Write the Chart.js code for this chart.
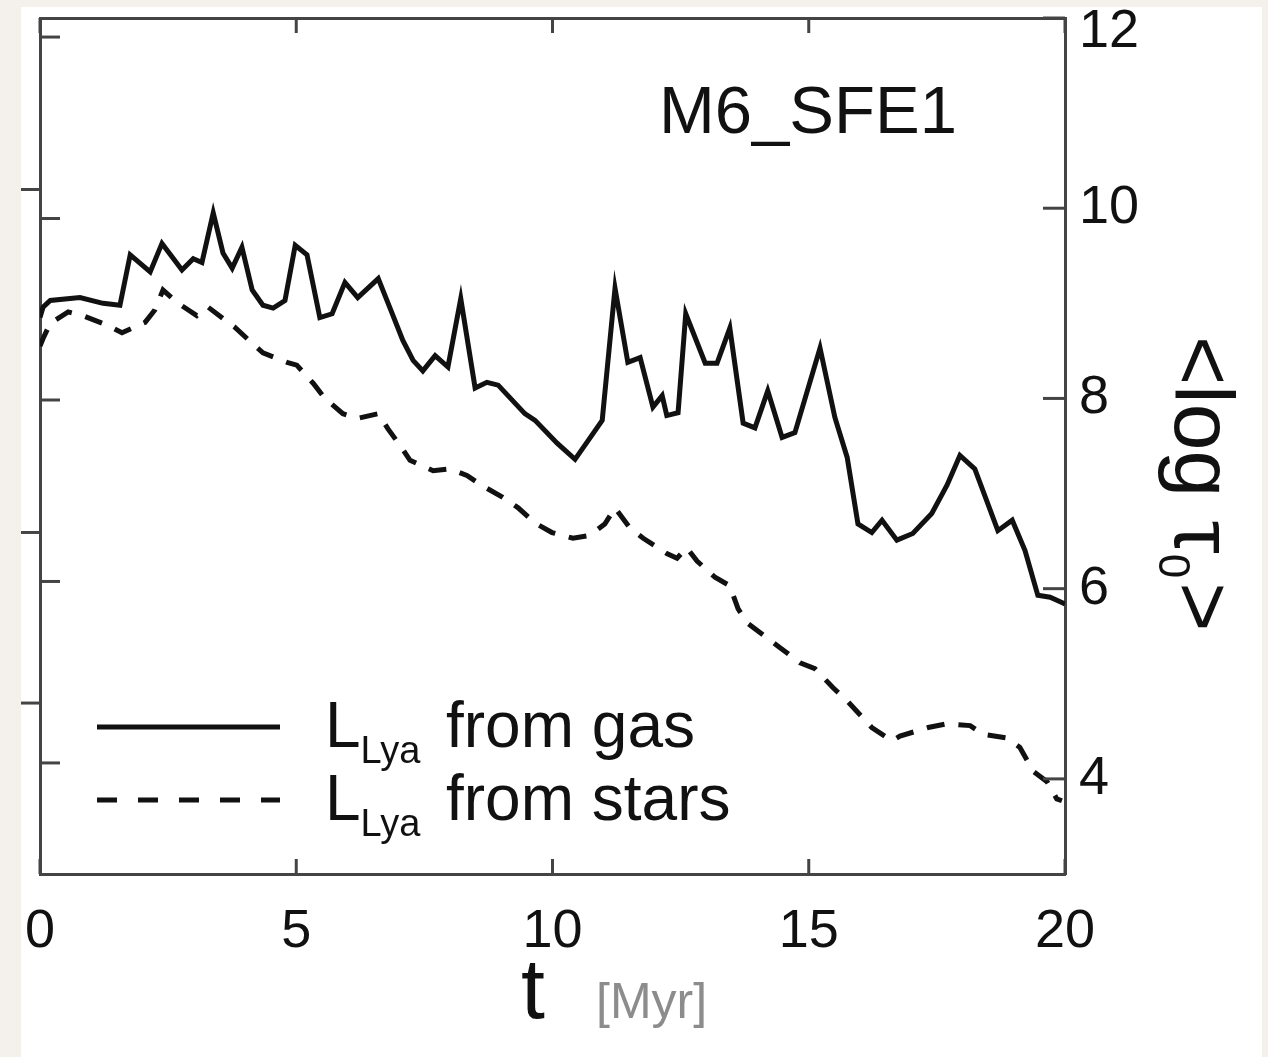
<!DOCTYPE html>
<html><head><meta charset="utf-8">
<script src="https://cdn.jsdelivr.net/npm/chart.js@4.4.0/dist/chart.umd.min.js"></script>
<style>
html,body{margin:0;padding:0;background:#f4f1ec;overflow:hidden;}
#paper{position:absolute;left:21px;top:7px;width:1241px;height:1050px;background:#fff;}
#c{position:absolute;left:0;top:0;}
</style></head><body>
<div id="paper"></div>
<canvas id="c" width="1268" height="1057"></canvas>
<script>
// ---- data ----
const xTicks = [0, 5, 10, 15, 20];
const rightTicks = [4, 6, 8, 10, 12];
const leftTicks = [40, 41, 42, 43, 44];
const leftOuterTicks = [40.33, 41.27, 43.16];
const panelLabel = 'M6_SFE1';
const seriesNames = ['from gas', 'from stars'];
const seriesSymbol = 'L';
const seriesSub = 'Lya';

const gasTime = [0, 0.06, 0.2, 0.78, 1.23, 1.56, 1.76, 2.15, 2.38, 2.77, 2.99, 3.16, 3.38, 3.57, 3.75, 3.94, 4.14, 4.35, 4.55, 4.78, 4.98, 5.21, 5.46, 5.70, 5.95, 6.20, 6.60, 6.83, 7.08, 7.28, 7.47, 7.71, 7.96, 8.21, 8.49, 8.72, 8.94, 9.46, 9.66, 10.09, 10.44, 10.97, 11.22, 11.47, 11.71, 11.96, 12.14, 12.23, 12.45, 12.60, 12.98, 13.21, 13.46, 13.72, 13.95, 14.20, 14.48, 14.73, 15.22, 15.51, 15.75, 15.96, 16.23, 16.43, 16.72, 17.03, 17.40, 17.70, 17.95, 18.24, 18.69, 18.97, 19.22, 19.47, 19.71, 19.96, 20.0];
const gasTau = [8.85, 8.96, 9.03, 9.06, 9.0, 8.98, 9.51, 9.33, 9.63, 9.35, 9.47, 9.43, 9.95, 9.53, 9.37, 9.59, 9.14, 8.98, 8.95, 9.03, 9.61, 9.51, 8.85, 8.89, 9.22, 9.06, 9.26, 8.95, 8.61, 8.40, 8.29, 8.45, 8.33, 9.05, 8.11, 8.17, 8.14, 7.84, 7.77, 7.53, 7.36, 7.77, 9.16, 8.38, 8.43, 7.91, 8.03, 7.82, 7.85, 8.89, 8.37, 8.37, 8.74, 7.74, 7.69, 8.08, 7.59, 7.64, 8.53, 7.80, 7.38, 6.68, 6.59, 6.72, 6.51, 6.58, 6.79, 7.09, 7.40, 7.26, 6.61, 6.72, 6.40, 5.93, 5.91, 5.85, 5.84];

const starTime = [0, 0.06, 0.20, 0.55, 0.84, 1.31, 1.60, 2.05, 2.24, 2.40, 2.67, 3.06, 3.28, 3.57, 3.80, 4.14, 4.35, 4.82, 5.01, 5.33, 5.56, 5.91, 6.20, 6.60, 6.79, 7.06, 7.22, 7.67, 8.00, 8.33, 8.64, 9.03, 9.33, 9.66, 9.99, 10.40, 10.73, 11.02, 11.22, 11.51, 11.77, 12.23, 12.43, 12.62, 12.82, 13.17, 13.46, 13.62, 13.80, 14.19, 14.44, 14.83, 15.12, 15.47, 15.75, 16.06, 16.23, 16.62, 16.78, 17.33, 17.70, 18.15, 18.40, 18.87, 19.12, 19.38, 19.65, 19.84, 19.94];
const starTau = [8.55, 8.63, 8.79, 8.91, 8.87, 8.77, 8.69, 8.80, 8.93, 9.14, 9.01, 8.87, 8.96, 8.84, 8.75, 8.58, 8.48, 8.38, 8.35, 8.16, 8.00, 7.84, 7.79, 7.84, 7.68, 7.48, 7.35, 7.24, 7.26, 7.19, 7.08, 6.96, 6.85, 6.69, 6.59, 6.53, 6.56, 6.68, 6.85, 6.64, 6.53, 6.37, 6.32, 6.43, 6.29, 6.12, 6.03, 5.79, 5.64, 5.48, 5.38, 5.22, 5.16, 4.96, 4.82, 4.64, 4.54, 4.40, 4.45, 4.54, 4.58, 4.56, 4.47, 4.43, 4.33, 4.08, 3.97, 3.79, 3.77];

// ---- styling ----
const FONT = '"Liberation Sans", Arial, Helvetica, sans-serif';
const INK = '#111';
const AXIS = '#444';

function pts(xs, ys) { return xs.map((x, i) => ({ x: x, y: ys[i] })); }
const setTicks = arr => scale => { scale.ticks = arr.map(v => ({ value: v })); };
const fixBox = (w, h) => s => {
  if (w !== null) s.width = w;
  if (h !== null) s.height = h;
  s.paddingTop = 0; s.paddingBottom = 0; s.paddingLeft = 0; s.paddingRight = 0;
};

const frameTicks = {
  id: 'frameTicks',
  afterDraw(chart) {
    const { ctx, chartArea: a, scales } = chart;
    ctx.save();
    ctx.strokeStyle = AXIS; ctx.lineWidth = 3; ctx.lineCap = 'butt';
    const seg = (x1, y1, x2, y2) => { ctx.beginPath(); ctx.moveTo(x1, y1); ctx.lineTo(x2, y2); ctx.stroke(); };
    scales.x.ticks.forEach(t => { const p = scales.x.getPixelForValue(t.value); seg(p, a.bottom, p, a.bottom - 15); });
    scales.x2.ticks.forEach(t => { const p = scales.x2.getPixelForValue(t.value); seg(p, a.top, p, a.top + 15); });
    scales.y.ticks.forEach(t => { const p = scales.y.getPixelForValue(t.value); seg(a.left, p, a.left + 20, p); });
    leftOuterTicks.forEach(v => { const p = scales.y.getPixelForValue(v); seg(a.left - 19, p, a.left, p); });
    scales.yR.ticks.forEach(t => { const p = scales.yR.getPixelForValue(t.value); seg(a.right, p, a.right - 22, p); });
    ctx.restore();
  }
};

const texts = {
  id: 'texts',
  afterDraw(chart) {
    const { ctx, chartArea: a } = chart;
    ctx.save();
    ctx.fillStyle = INK;
    ctx.textBaseline = 'alphabetic';
    ctx.textAlign = 'left';
    // panel label
    ctx.font = '67px ' + FONT;
    ctx.fillText(panelLabel, a.left + 619, a.top + 115);

    // legend
    chart.data.datasets.forEach((ds, i) => {
      const ly = a.top + 709 + i * 73;
      ctx.save();
      ctx.strokeStyle = ds.borderColor; ctx.lineWidth = ds.borderWidth;
      ctx.setLineDash(ds.borderDash ? [20, 21] : []);
      ctx.beginPath(); ctx.moveTo(a.left + 57, ly); ctx.lineTo(a.left + 240, ly); ctx.stroke();
      ctx.restore();
      let x = a.left + 285;
      const base = ly + 20;
      ctx.font = '64px ' + FONT;
      ctx.fillText(seriesSymbol, x, base);
      x += ctx.measureText(seriesSymbol).width;
      ctx.font = '38px ' + FONT;
      ctx.fillText(seriesSub, x, base + 16);
      ctx.font = '64px ' + FONT;
      ctx.fillText(seriesNames[i], a.left + 406, base);
    });

    // x title
    ctx.font = '86px ' + FONT;
    ctx.fillStyle = INK;
    ctx.fillText('t', a.left + 481, a.bottom + 144);
    ctx.font = '50px ' + FONT;
    ctx.fillStyle = '#8c8c8c';
    ctx.fillText('[Myr]', a.left + 556, a.bottom + 144);

    // right y title, rotated clockwise
    ctx.fillStyle = INK;
    ctx.translate(a.right + 110, a.top + 318);
    ctx.rotate(Math.PI / 2);
    ctx.font = '84px ' + FONT;
    let tx = 0;
    ctx.fillText('<log τ', tx, 0);
    tx += ctx.measureText('<log τ').width;
    ctx.font = '44px ' + FONT;
    ctx.fillText('0', tx, 16);
    tx += ctx.measureText('0').width + 4;
    ctx.font = '84px ' + FONT;
    ctx.fillText('>', tx, 0);
    ctx.restore();
  }
};

const axisBorder = { color: AXIS, width: 3 };
const noGrid = { drawOnChartArea: false, drawTicks: false };

new Chart(document.getElementById('c'), {
  type: 'line',
  data: {
    datasets: [
      { label: seriesNames[0], data: pts(gasTime, gasTau), yAxisID: 'yR', xAxisID: 'x',
        borderColor: INK, borderWidth: 5, pointRadius: 0, tension: 0, fill: false },
      { label: seriesNames[1], data: pts(starTime, starTau), yAxisID: 'yR', xAxisID: 'x',
        borderColor: INK, borderWidth: 5, borderDash: [18, 14], pointRadius: 0, tension: 0, fill: false }
    ]
  },
  options: {
    responsive: false,
    devicePixelRatio: 1,
    animation: false,
    layout: { padding: 0 },
    plugins: { legend: { display: false }, tooltip: { enabled: false } },
    scales: {
      x: { type: 'linear', position: 'bottom', min: 0, max: 20,
        afterBuildTicks: setTicks(xTicks),
        ticks: { font: { family: FONT, size: 54 }, color: INK, padding: 26, maxRotation: 0, autoSkip: false },
        grid: noGrid, border: axisBorder,
        afterFit: fixBox(null, 183) },
      x2: { type: 'linear', position: 'top', min: 0, max: 20,
        afterBuildTicks: setTicks(xTicks),
        ticks: { display: false }, grid: noGrid, border: axisBorder,
        afterFit: fixBox(null, 18) },
      y: { type: 'linear', position: 'left', min: 39.388, max: 44.105,
        afterBuildTicks: setTicks(leftTicks),
        ticks: { display: false }, grid: noGrid, border: axisBorder,
        afterFit: fixBox(40, null) },
      yR: { type: 'linear', position: 'right', min: 3, max: 12,
        afterBuildTicks: setTicks(rightTicks),
        ticks: {
          color: INK, padding: 14, autoSkip: false,
          font: ctx => ({ family: FONT, size: 54, lineHeight: (ctx.tick && ctx.tick.value === 12) ? '28px' : 1.2 }),
          callback: v => (v === 12 ? ['', String(v)] : String(v))
        },
        grid: noGrid, border: axisBorder,
        afterFit: fixBox(203, null) }
    }
  },
  plugins: [frameTicks, texts]
});
</script>
</body></html>
